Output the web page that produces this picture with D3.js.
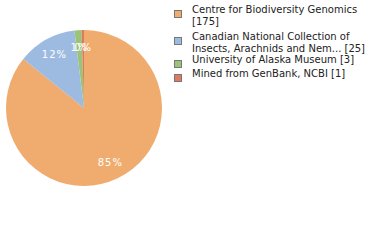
<!DOCTYPE html>
<html>
<head>
<meta charset="utf-8">
<script src="https://cdn.jsdelivr.net/npm/d3@7"></script>
<style>
body { margin: 0; background: #fff; }
</style>
</head>
<body>
<script>
var legendLines = [["Centre for Biodiversity Genomics", "[175]"],
                   ["Canadian National Collection of", "Insects, Arachnids and Nem... [25]"],
                   ["University of Alaska Museum [3]"],
                   ["Mined from GenBank, NCBI [1]"]];
var counts = [175, 25, 3, 1];
var colors = ["#efac6e", "#9dbbe0", "#9bc478", "#e07a5c"];

var width = 380, height = 240,
    cx = 84, cy = 108, r = 78;

var svg = d3.select("body").append("svg")
    .attr("width", width)
    .attr("height", height);

var total = d3.sum(counts);

var pie = d3.pie().sort(null).value(function(d) { return d; });
var arc = d3.arc().innerRadius(0).outerRadius(r);
var labelArc = d3.arc().innerRadius(r * 0.78).outerRadius(r * 0.78);

var g = svg.append("g").attr("transform", "translate(" + cx + "," + cy + ")");

var slices = pie(counts);

g.selectAll("path.slice")
    .data(slices)
    .enter().append("path")
    .attr("class", "slice")
    .attr("d", arc)
    .style("fill", function(d, i) { return colors[i]; });

g.selectAll("text.pct")
    .data(slices)
    .enter().append("text")
    .attr("class", "pct")
    .attr("transform", function(d) { return "translate(" + labelArc.centroid(d) + ")"; })
    .attr("text-anchor", "middle")
    .attr("dy", "0.35em")
    .style("font-family", "DejaVu Sans, sans-serif")
    .style("font-size", "10px")
    .style("letter-spacing", "1px")
    .style("fill", "#fff")
    .text(function(d) { return Math.floor(d.value / total * 100) + "%"; });

// legend
var rowY = [10, 37, 60, 74];

var legend = svg.selectAll("g.legend")
    .data(legendLines)
    .enter().append("g")
    .attr("class", "legend")
    .attr("transform", function(d, i) { return "translate(174," + rowY[i] + ")"; });

legend.append("rect")
    .attr("x", 0.5).attr("y", 0.5)
    .attr("width", 7).attr("height", 7)
    .style("fill", function(d, i) { return colors[i]; })
    .style("stroke", "#777")
    .style("stroke-width", 1);

legend.each(function(lines) {
    var t = d3.select(this).append("text")
        .style("font-family", "DejaVu Sans, sans-serif")
        .style("font-size", "10px")
        .style("fill", "#222");
    lines.forEach(function(s, j) {
        t.append("tspan")
            .attr("x", 18)
            .attr("y", 3 + j * 11.5)
            .text(s);
    });
});
</script>
</body>
</html>
